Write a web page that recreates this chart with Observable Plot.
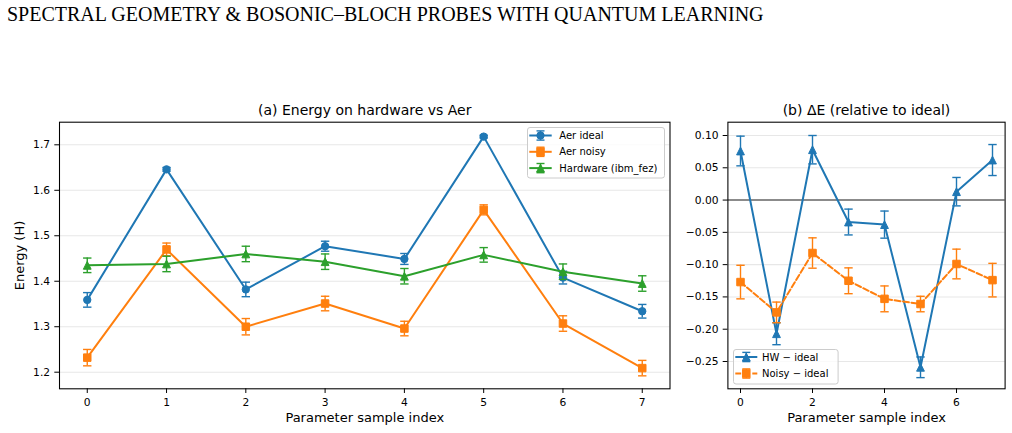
<!DOCTYPE html>
<html><head><meta charset="utf-8">
<script src="https://cdn.jsdelivr.net/npm/d3@7"></script>
<script src="https://cdn.jsdelivr.net/npm/@observablehq/plot@0.6"></script>
<style>
body{margin:0;background:#fff;width:1012px;height:433px;position:relative;overflow:hidden;font-family:"DejaVu Sans",sans-serif;}
#title{position:absolute;left:7px;top:4px;font-family:"Liberation Serif",serif;font-size:20px;line-height:20px;color:#000;white-space:nowrap;}
#left{position:absolute;left:0;top:30px;}
#right{position:absolute;left:690px;top:30px;}
.legend{position:absolute;}
.legend svg{display:block;overflow:visible;}
</style></head><body>
<div id="left"></div><div id="right"></div>
<div id="title"></div>
<div id="legA" class="legend"></div><div id="legB" class="legend"></div>
<script>
// ---- text ----
const figureTitle = "SPECTRAL GEOMETRY & BOSONIC–BLOCH PROBES WITH QUANTUM LEARNING";
const panelTitleA = "(a) Energy on hardware vs Aer";
const panelTitleB = "(b) ΔE (relative to ideal)";
const xLabel = "Parameter sample index";
const yLabelA = "Energy (H)";
const seriesNamesA = ["Aer ideal", "Aer noisy", "Hardware (ibm_fez)"];
const seriesNamesB = ["HW − ideal", "Noisy − ideal"];

// ---- ticks ----
const xTicksA = [0, 1, 2, 3, 4, 5, 6, 7];
const xTicksB = [0, 2, 4, 6];
const yTicksA = [1.2, 1.3, 1.4, 1.5, 1.6, 1.7];
const yTicksB = [-0.25, -0.20, -0.15, -0.10, -0.05, 0.00, 0.05, 0.10];

// ---- data ----
const sampleIndex = [0, 1, 2, 3, 4, 5, 6, 7];
const aerIdeal    = [1.359, 1.646, 1.382, 1.477, 1.449, 1.718, 1.408, 1.334];
const aerIdealErr = [0.016, 0.004, 0.016, 0.011, 0.012, 0.003, 0.014, 0.015];
const aerNoisy    = [1.232, 1.470, 1.300, 1.351, 1.296, 1.557, 1.307, 1.209];
const aerNoisyErr = [0.018, 0.014, 0.018, 0.016, 0.016, 0.011, 0.017, 0.017];
const hardware    = [1.435, 1.438, 1.460, 1.443, 1.411, 1.458, 1.421, 1.395];
const hardwareErr = [0.016, 0.017, 0.017, 0.017, 0.017, 0.016, 0.017, 0.017];
const hwMinusIdeal       = [0.076, -0.207, 0.078, -0.034, -0.038, -0.259, 0.013, 0.062];
const hwMinusIdealErr    = [0.023, 0.017, 0.022, 0.020, 0.021, 0.016, 0.022, 0.024];
const noisyMinusIdeal    = [-0.127, -0.174, -0.082, -0.125, -0.153, -0.161, -0.099, -0.124];
const noisyMinusIdealErr = [0.026, 0.016, 0.0235, 0.020, 0.020, 0.012, 0.023, 0.026];

const C = ["#1f77b4", "#ff7f0e", "#2ca02c"];

// ---- symbols ----
const squareSym = {draw(c, s) { const r = Math.sqrt(s / Math.PI); c.moveTo(-r, -r); c.lineTo(r, -r); c.lineTo(r, r); c.lineTo(-r, r); c.closePath(); }};
const triSym = {draw(c, s) { const r = Math.sqrt(s / Math.PI); c.moveTo(0, -r); c.lineTo(r, r); c.lineTo(-r, r); c.closePath(); }};
const capSym = {draw(c, s) { const r = Math.sqrt(s / Math.PI); c.moveTo(-r, 0); c.lineTo(r, 0); }};

function series(values, errs, color, symbol, r, dash) {
  const rows = sampleIndex.map((x, i) => ({x, v: values[i], e: errs[i]}));
  return [
    Plot.line(rows, {x: "x", y: "v", stroke: color, strokeWidth: 2, strokeDasharray: dash || null}),
    Plot.ruleX(rows, {x: "x", y1: d => d.v - d.e, y2: d => d.v + d.e, stroke: color, strokeWidth: 1.4}),
    Plot.dot(rows, {x: "x", y: d => d.v - d.e, symbol: capSym, r: 4.2, stroke: color, strokeWidth: 1.4, fill: "none"}),
    Plot.dot(rows, {x: "x", y: d => d.v + d.e, symbol: capSym, r: 4.2, stroke: color, strokeWidth: 1.4, fill: "none"}),
    Plot.dot(rows, {x: "x", y: "v", symbol, r, fill: color, stroke: color, strokeWidth: 1})
  ];
}

const common = {
  height: 403, marginTop: 91.7, marginBottom: 44.7,
  style: {fontFamily: "DejaVu Sans", fontSize: "10.7px", color: "#000", background: "transparent", overflow: "visible"}
};
const axisOpts = {tickSize: 4.7, tickPadding: 4.7, fontSize: 10.7, label: null};

const left = Plot.plot({
  ...common, width: 690, marginLeft: 59, marginRight: 20.5,
  x: {domain: [-0.35, 7.35]},
  y: {domain: [1.1635, 1.7497]},
  marks: [
    Plot.gridY(yTicksA, {stroke: "#b0b0b0", strokeOpacity: 0.3, strokeWidth: 1.07}),
    ...series(aerIdeal, aerIdealErr, C[0], "circle", 3.7),
    ...series(aerNoisy, aerNoisyErr, C[1], squareSym, 3.75),
    ...series(hardware, hardwareErr, C[2], triSym, 3.9),
    Plot.frame({stroke: "#000", strokeWidth: 1.07}),
    Plot.axisX(xTicksA, {...axisOpts, tickFormat: d3.format("d")}),
    Plot.axisY(yTicksA, {...axisOpts, tickFormat: d3.format(".1f")}),
    Plot.text([panelTitleA], {text: d => d, frameAnchor: "top", lineAnchor: "bottom", dy: -7.4, fontSize: 14}),
    Plot.text([xLabel], {text: d => d, frameAnchor: "bottom", lineAnchor: "bottom", dy: 33.4, fontSize: 13}),
    Plot.text([yLabelA], {text: d => d, frameAnchor: "left", rotate: -90, textAnchor: "middle", lineAnchor: "middle", dx: -40, fontSize: 13})
  ]
});
document.getElementById("left").append(left);

const right = Plot.plot({
  ...common, width: 322, marginLeft: 37.4, marginRight: 7.4,
  x: {domain: [-0.35, 7.35]},
  y: {domain: [-0.2923, 0.1206]},
  marks: [
    Plot.gridY(yTicksB, {stroke: "#b0b0b0", strokeOpacity: 0.3, strokeWidth: 1.07}),
    Plot.ruleY([0], {stroke: "#000", strokeWidth: 1.07, strokeOpacity: 0.85}),
    ...series(hwMinusIdeal, hwMinusIdealErr, C[0], triSym, 3.9),
    ...series(noisyMinusIdeal, noisyMinusIdealErr, C[1], squareSym, 3.75, "5.9,2.6"),
    Plot.frame({stroke: "#000", strokeWidth: 1.07}),
    Plot.axisX(xTicksB, {...axisOpts, tickFormat: d3.format("d")}),
    Plot.axisY(yTicksB, {...axisOpts, tickFormat: d3.format(".2f")}),
    Plot.text([panelTitleB], {text: d => d, frameAnchor: "top", lineAnchor: "bottom", dy: -7.4, fontSize: 14}),
    Plot.text([xLabel], {text: d => d, frameAnchor: "bottom", lineAnchor: "bottom", dy: 33.4, fontSize: 13})
  ]
});
document.getElementById("right").append(right);

document.getElementById("title").textContent = figureTitle;

// ---- legends (decoration) ----
function markerSVG(kind, cx, cy, color) {
  if (kind === "circle") return `<circle cx="${cx}" cy="${cy}" r="3.7" fill="${color}" stroke="${color}" stroke-width="1"/>`;
  if (kind === "square") return `<rect x="${cx-3.75}" y="${cy-3.75}" width="7.5" height="7.5" fill="${color}" stroke="${color}" stroke-width="1"/>`;
  return `<polygon points="${cx},${cy-3.9} ${cx+3.9},${cy+3.9} ${cx-3.9},${cy+3.9}" fill="${color}" stroke="${color}" stroke-width="1"/>`;
}
function legend(id, left, top, w, h, entries, rowYs, sw0, sw1, tx) {
  const cx = (sw0 + sw1) / 2;
  let s = `<svg width="${w+2}" height="${h+2}" xmlns="http://www.w3.org/2000/svg">`;
  s += `<rect x="0.5" y="0.5" width="${w}" height="${h}" rx="2.5" fill="#fff" fill-opacity="0.8" stroke="#cccccc" stroke-width="1"/>`;
  entries.forEach((e, i) => {
    const y = rowYs[i];
    s += `<line x1="${sw0}" y1="${y}" x2="${sw1}" y2="${y}" stroke="${e.color}" stroke-width="2" ${e.dash ? `stroke-dasharray="${e.dash}"` : ""}/>`;
    s += `<line x1="${cx}" y1="${y-4.6}" x2="${cx}" y2="${y+4.6}" stroke="${e.color}" stroke-width="1.4"/>`;
    s += `<line x1="${cx-4}" y1="${y-4.6}" x2="${cx+4}" y2="${y-4.6}" stroke="${e.color}" stroke-width="1.4"/>`;
    s += `<line x1="${cx-4}" y1="${y+4.6}" x2="${cx+4}" y2="${y+4.6}" stroke="${e.color}" stroke-width="1.4"/>`;
    s += markerSVG(e.kind, cx, y, e.color);
    s += `<text x="${tx}" y="${y+3.6}" font-family="DejaVu Sans" font-size="10" fill="#000">${e.name}</text>`;
  });
  s += `</svg>`;
  const el = document.getElementById(id);
  el.style.left = left + "px"; el.style.top = top + "px";
  el.innerHTML = s;
}
legend("legA", 527, 126.5, 137, 50.5, [
  {name: seriesNamesA[0], color: C[0], kind: "circle"},
  {name: seriesNamesA[1], color: C[1], kind: "square"},
  {name: seriesNamesA[2], color: C[2], kind: "triangle"}
], [8.5, 24.8, 41.1], 2.3, 24.7, 32.3);
legend("legB", 732.7, 349, 104.6, 34.5, [
  {name: seriesNamesB[0], color: C[0], kind: "triangle"},
  {name: seriesNamesB[1], color: C[1], kind: "square", dash: "5.9,2.6"}
], [8, 24.5], 2.3, 24.3, 29);
</script>
</body></html>
